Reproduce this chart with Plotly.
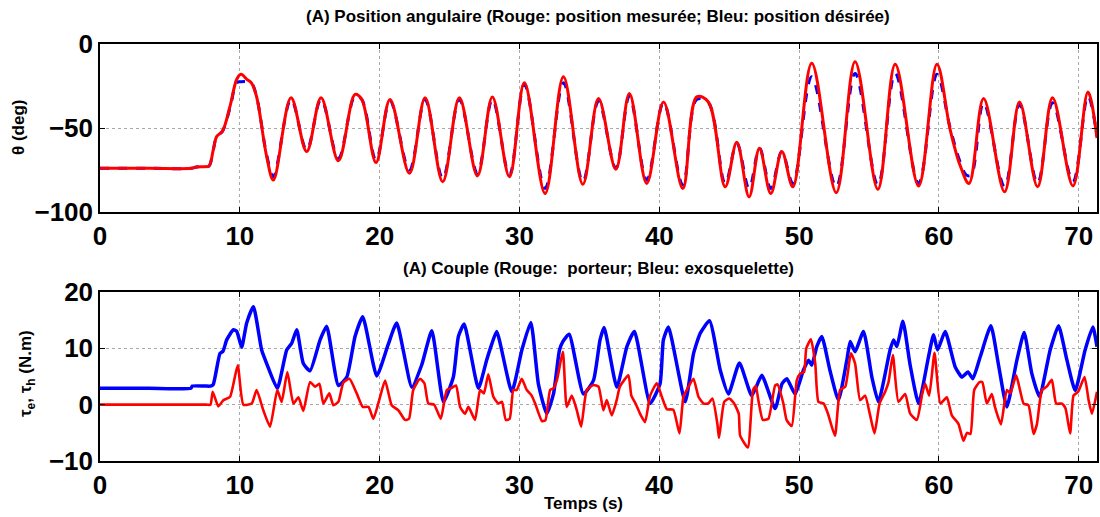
import plotly.graph_objects as go

# ---------------- data ----------------
# Top: angular position (deg)
meas_t = [0, 3.5, 6.5, 6.9, 7.5, 7.8, 8.1, 8.35, 8.75, 9.3, 9.78, 10.08, 10.5, 10.85, 11.2, 11.92, 12.4,
          13.66, 14.78, 15.81, 17.05, 18.24, 18.72, 19.74, 20.74, 22.13, 23.25, 24.51, 25.7,
          26.99, 28.06, 29.28, 30.35, 31.83, 33.14, 34.53, 35.65, 36.89, 37.86, 39.1, 40.3,
          41.68, 42.68, 43.51, 44.71, 45.54, 46.42, 47.16, 47.97, 48.76, 49.55, 50.9, 52.65,
          54.0, 55.63, 56.87, 58.54, 59.85, 60.8, 61.5, 62.15, 63.19, 64.69, 65.76, 67.05,
          68.12, 69.58, 70.65, 71.3]
meas_v = [-74, -74, -74, -73.2, -73, -72.6, -63, -55, -52, -37, -21, -18, -21, -23.4, -31.4, -67, -81,
          -32, -64, -32, -69.5, -30, -33, -70.5, -33, -77, -32, -82, -32,
          -78.5, -31.5, -79, -23, -89, -19.5, -83.5, -32.5, -74.5, -29.5, -83, -34.5,
          -86, -31.5, -34.5, -85, -58.5, -91, -62, -89, -64, -85, -11.5, -88.5,
          -10.5, -86.5, -12, -84.5, -12, -51, -72, -83, -32.5, -88, -34.5, -85,
          -32, -84.5, -28.5, -56]

des_t = [0, 3.5, 6.5, 6.9, 7.5, 7.8, 8.1, 8.35, 8.75, 9.3, 9.78, 10.08, 10.5, 10.85, 11.2, 11.92, 12.4,
         13.66, 14.78, 15.81, 17.05, 18.24, 18.72, 19.74, 20.74, 22.13, 23.25, 24.51, 25.7,
         26.99, 28.06, 29.28, 30.35, 31.83, 33.14, 34.53, 35.65, 36.89, 37.86, 39.1, 40.3,
         41.68, 42.68, 43.51, 44.71, 45.54, 46.42, 47.16, 47.97, 48.76, 49.55, 50.9, 52.65,
         54.0, 55.63, 56.87, 58.54, 59.85, 60.8, 61.5, 61.95, 62.3, 63.19, 64.69, 65.76, 67.05,
         68.12, 69.58, 70.65, 71.3]
des_v = [-74, -74, -74, -73.2, -73, -72.6, -63, -55, -52, -38, -23, -22.5, -22.5, -23.5, -31.4, -66, -79,
         -33, -63, -33, -68, -31, -33, -69, -34, -75, -33, -80, -33,
         -77, -33, -78, -24, -86, -23, -82, -34, -74, -31, -81, -35,
         -84, -33, -35, -83, -59, -86, -62, -86, -64, -83, -19.5, -85,
         -17.5, -84, -17.5, -83, -18, -50, -70, -78, -78, -35, -85, -36, -83,
         -35, -82, -31, -55]

# Bottom: torque (N.m)
exo_t = [0, 3.5, 6.5, 6.6, 7.5, 7.9, 8.1, 8.58, 8.8, 9.06, 9.54, 9.78, 10.13, 10.49, 10.97, 11.56, 11.92,
         12.68, 13.35, 13.71, 14.07, 14.54, 15.02, 15.74, 16.21, 17.05, 17.65, 18.24, 18.79,
         19.79, 20.6, 21.22, 22.3, 23.0, 23.73, 24.56, 25.27, 25.63, 26.04, 27.06, 27.65,
         28.0, 28.37, 29.45, 30.17, 30.81, 31.35, 31.95, 32.43, 32.86, 33.1, 33.55, 34.57,
         35.29, 35.76, 36.05, 36.96, 37.68, 38.22, 39.34, 40.05, 40.29, 40.65, 41.85, 42.45,
         42.93, 43.59, 44.36, 44.94, 45.73, 46.61, 47.33, 48.28, 48.77, 49.12, 49.71, 50.3,
         50.67, 50.9, 51.26, 51.62, 52.2, 52.81, 53.41, 53.65, 54.0, 54.6, 55.2, 55.67, 56.5,
         56.75, 56.99, 57.42, 57.94, 58.54, 59.25, 59.61, 59.9, 60.44, 61.16, 61.64, 62.07,
         62.42, 62.95, 63.71, 64.26, 64.85, 65.57, 66.09, 66.64, 67.19, 67.95, 68.55, 69.15,
         69.74, 70.45, 71.0, 71.3]
exo_v = [2.9, 2.9, 2.9, 3.3, 3.3, 3.3, 3.6, 9.1, 9.5, 11.5, 13.3, 13.0, 10.2, 14.5, 17.4, 9.7, 7.3,
         2.9, 9.7, 10.9, 13.3, 7.3, 6.0, 11.5, 13.9, 3.4, 4.9, 12.1, 15.6,
         5.1, 10.6, 14.5, 3.1, 7.0, 13.1, 0.5, 4.9, 12.1, 14.3, 2.9, 7.9,
         10.6, 13.0, 2.3, 9.7, 14.6, 3.7, -1.6, 1.9, 9.7, 11.2, 12.5, 1.9,
         4.3, 11.5, 13.7, 3.1, 10.3, 13.0, 0.2, 3.7, 11.5, 13.8, 0.5, 9.1,
         12.7, 14.9, 6.1, 1.9, 7.4, 1.6, 5.2, -0.7, 3.7, 4.6, 1.9, 6.1,
         7.9, 7.0, 10.3, 12.1, 6.1, 0.8, 7.9, 11.2, 9.4, 13.0, 4.9, 0.5, 9.7,
         11.5, 10.3, 14.8, 7.0, 0.2, 8.5, 12.4, 9.7, 13.0, 6.7, 4.9, 5.8,
         4.6, 8.5, 14.0, 7.0, -0.4, 7.9, 12.8, 5.5, 1.4, 9.7, 14.0, 7.9,
         2.5, 9.7, 13.8, 10.3]

wearer_t = [0, 3.5, 7.6, 7.9, 8.06, 8.46, 8.82, 9.3, 9.85, 10.25, 10.85, 11.2, 11.68, 12.16, 12.68, 12.99,
            13.4, 13.83, 14.19, 14.54, 15.02, 15.38, 15.69, 15.97, 16.4, 16.69, 17.05, 17.4,
            17.84, 18.36, 18.79, 19.2, 19.55, 20.03, 20.39, 20.86, 21.34, 21.81, 22.1, 22.4,
            22.89, 23.2, 23.48, 23.9, 24.37, 24.8, 25.1, 25.46, 25.75, 26.11, 26.35, 26.82,
            27.18, 27.45, 27.77, 28.13, 28.5, 28.75, 29.02, 29.3, 29.56, 29.8, 30.16, 30.52,
            30.85, 31.12, 31.6, 31.85, 32.19, 32.43, 32.67, 33.1, 33.38, 33.74, 34.1, 34.41,
            34.81, 35.29, 35.65, 36.0, 36.24, 36.6, 36.95, 37.18, 37.79, 38.0, 38.3, 38.62,
            38.98, 39.34, 39.82, 40.18, 40.54, 41.0, 41.44, 41.72, 41.96, 42.44, 42.8, 43.16,
            43.5, 43.8, 44.15, 44.27, 44.64, 45.0, 45.35, 45.68, 45.78, 46.33, 46.7, 46.9,
            47.1, 47.4, 47.8, 48.28, 48.45, 48.87, 49.1, 49.47, 49.83, 50.07, 50.35, 50.51,
            50.84, 51.15, 51.38, 51.75, 52.06, 52.56, 52.93, 53.3, 53.7, 54.0, 54.36, 54.72,
            55.05, 55.39, 55.75, 56.15, 56.39, 56.7, 57.1, 57.58, 57.94, 58.42, 58.8, 59.01,
            59.3, 59.68, 60.1, 60.56, 60.92, 61.39, 61.75, 62.0, 62.25, 62.52, 62.9, 63.1,
            63.42, 63.78, 64.0, 64.43, 64.85, 65.1, 65.52, 66.05, 66.4, 66.76, 67.0, 67.36,
            67.7, 68.07, 68.38, 68.8, 69.05, 69.38, 69.62, 69.95, 70.41, 70.7, 70.94, 71.3]
wearer_v = [0, 0, 0, 0, 2.3, -0.3, 0.8, 1.4, 7.0, 0, 0.2, 2.6, -1.0, -3.9, 2.6, 0.5,
            5.8, 0.2, 1.3, -1.1, 4.0, 3.2, 3.7, 0.2, 2.0, -0.1, 0.5, 3.9,
            4.6, 2.0, -0.4, -0.4, -2.5, 1.4, 4.3, -0.1, -1.0, -2.7, -2.5, 2.6,
            4.6, 3.8, 0.2, 0.0, -2.5, 2.6, 2.9, 3.4, -0.4, -1.6, -0.4, -2.7,
            2.6, 2.0, 5.4, 1.4, 0.2, 0.5, -2.7, -2.5, 2.6, 2.6, 4.6, 2.6,
            1.7, 0.2, -2.9, -2.8, 2.6, 2.9, 4.3, 9.4, -0.4, 1.6, -1.0, -3.9,
            2.6, 3.5, 3.2, -1.0, 0.8, -1.9, 0.8, 3.2, 5.2, 1.6, 0.2, -1.6,
            -3.1, 1.6, 3.8, 1.4, -0.8, -0.9, -5.1, 1.4, 2.6, 4.6, 1.4, 0.2,
            0.2, 1.1, -3.4, -5.9, 0.5, 1.1, 0.2, -1.6, -5.5, -7.6, 2.6, 3.3,
            0.5, -2.7, -2.5, 3.4, 3.6, 0.2, -2.7, -3.8, 4.3, 5.5, 5.8, 10.0,
            11.6, 7.3, 0.5, 0.2, -1.6, -5.5, 2.6, 3.2, 9.1, 7.3, 0.8, 1.6,
            -1.6, -5.1, 0.2, 2.3, 4.0, 8.8, 0.5, 1.9, -1.6, -2.7, 1.9, 3.7,
            1.6, 9.2, 0.2, 1.3, -1.9, -3.4, -6.4, -5.0, -5.2, 2.6, 4.0, 4.0,
            0.2, 1.9, -0.4, -3.5, 2.6, 2.0, 5.2, 0.2, -0.1, -5.2, -3.5, 2.6,
            3.2, 4.4, 0.2, 0.2, -0.7, -5.1, 1.6, 2.3, 4.9, 0.8, -1.6, 2.3]

x_ticks = [0, 10, 20, 30, 40, 50, 60, 70]
top_y_ticks = [-100, -50, 0]
bot_y_ticks = [-10, 0, 10, 20]

title_top = "(A) Position angulaire (Rouge: position mesurée; Bleu: position désirée)"
title_bot = "(A) Couple (Rouge:  porteur; Bleu: exosquelette)"

# ---------------- figure ----------------
W, H = 1100, 517
L, R, T, B = 100, 3, 44, 56
plot_h = H - T - B
top_dom = [1 - (212 - 44) / plot_h, 1]
bot_dom = [0, (461 - 292) / plot_h]

fig = go.Figure()
fig.add_trace(go.Scatter(x=des_t, y=des_v, mode="lines", xaxis="x", yaxis="y",
                         line=dict(color="#0000ff", width=3, dash="dash", shape="spline", smoothing=1.0),
                         showlegend=False))
fig.add_trace(go.Scatter(x=meas_t, y=meas_v, mode="lines", xaxis="x", yaxis="y",
                         line=dict(color="#ff0000", width=3, shape="spline", smoothing=1.0),
                         showlegend=False))
fig.add_trace(go.Scatter(x=exo_t, y=exo_v, mode="lines", xaxis="x2", yaxis="y2",
                         line=dict(color="#0000ff", width=3.5, shape="spline", smoothing=0.5),
                         showlegend=False))
fig.add_trace(go.Scatter(x=wearer_t, y=wearer_v, mode="lines", xaxis="x2", yaxis="y2",
                         line=dict(color="#ff0000", width=2.6, shape="spline", smoothing=0.5),
                         showlegend=False))

tick_font = dict(family="Liberation Sans, Arial, Helvetica", size=26, color="black", weight="bold")
lab_font = dict(family="Liberation Sans, Arial, Helvetica", size=17, color="black", weight="bold")

axis_common = dict(showline=True, linecolor="black", linewidth=1.5, mirror="ticks",
                   ticks="inside", ticklen=5, tickcolor="black", tickwidth=1,
                   showgrid=True, gridcolor="#a8a8a8", griddash="dot", gridwidth=1,
                   zeroline=False, tickfont=tick_font, automargin=False)

fig.update_layout(
    width=W, height=H,
    margin=dict(l=L, r=R, t=T, b=B),
    paper_bgcolor="white", plot_bgcolor="white",
    xaxis=dict(domain=[0, 1], anchor="y", range=[0, 71.3], tickvals=x_ticks, **axis_common),
    yaxis=dict(domain=top_dom, anchor="x", range=[-100, 0], tickvals=top_y_ticks, **axis_common),
    xaxis2=dict(domain=[0, 1], anchor="y2", range=[0, 71.3], tickvals=x_ticks, **axis_common),
    yaxis2=dict(domain=bot_dom, anchor="x2", range=[-10, 20], tickvals=bot_y_ticks, **axis_common),
    annotations=[
        dict(text=title_top, xref="paper", yref="paper", x=(598 - L) / (W - L - R),
             y=1 + 27 / plot_h, xanchor="center", yanchor="middle", showarrow=False, font=lab_font),
        dict(text=title_bot, xref="paper", yref="paper", x=(598 - L) / (W - L - R),
             y=(461 - 268) / plot_h, xanchor="center", yanchor="middle", showarrow=False, font=lab_font),
        dict(text="Temps (s)", xref="paper", yref="paper", x=(583 - L) / (W - L - R),
             y=-(503 - 461) / plot_h, xanchor="center", yanchor="middle", showarrow=False, font=lab_font),
        dict(text="θ (deg)", xref="paper", yref="paper", x=(19 - L) / (W - L - R),
             y=(461 - 128) / plot_h, xanchor="center", yanchor="middle", textangle=-90,
             showarrow=False, font=lab_font),
        dict(text="τ<sub>e</sub>, τ<sub>h</sub> (N.m)", xref="paper", yref="paper",
             x=(27 - L) / (W - L - R), y=(461 - 374) / plot_h, xanchor="center",
             yanchor="middle", textangle=-90, showarrow=False, font=lab_font),
    ],
)

fig.write_html("out.html", config={"displayModeBar": False},
               post_script="document.body.style.margin='0';document.body.style.overflow='hidden';")
